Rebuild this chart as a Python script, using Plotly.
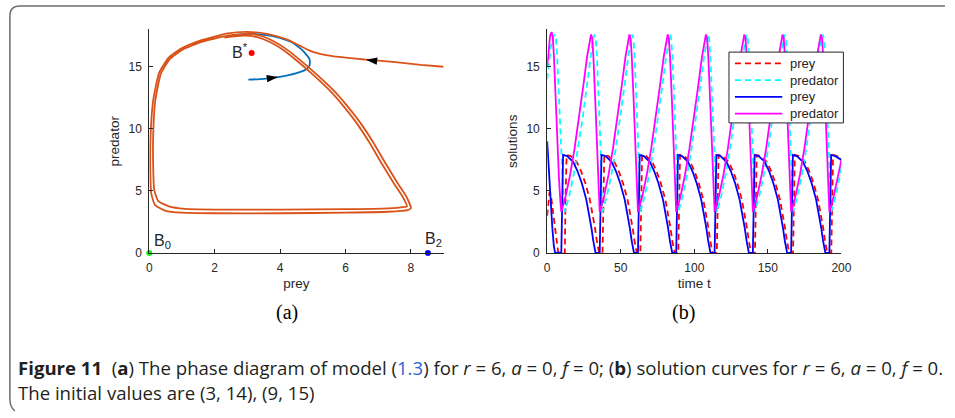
import plotly.graph_objects as go

# ---------------- (a) phase diagram data ----------------
orange_x = [9.0, 8.3, 7.6, 6.6, 5.6, 5.0, 4.6, 4.2, 3.6, 3.0, 2.4, 1.6, 1.0, 0.6, 0.3, 0.12, 0.04, 0.03, 0.06, 0.18, 0.5, 1.0, 2.0, 4.0, 6.0, 7.3, 7.9, 8.0,
            7.85, 7.6, 7.25, 6.85, 6.45, 6.05, 5.65, 5.15, 4.65, 4.2, 3.8, 3.4, 3.0,
            2.4, 1.6, 1.0, 0.62, 0.35, 0.18, 0.12, 0.12, 0.15, 0.27, 0.6, 1.1, 2.0, 4.0, 6.0, 7.3, 7.78, 7.88,
            7.72, 7.48, 7.13, 6.73, 6.33, 5.93, 5.53, 5.03, 4.55, 4.12, 3.72, 3.3, 2.9, 2.3]
orange_y = [15.0, 15.15, 15.35, 15.58, 15.85, 16.2, 16.7, 17.2, 17.65, 17.8, 17.68, 17.15, 16.5, 15.75, 14.5, 12.3, 9.5, 6.9, 4.8, 3.85, 3.4, 3.25, 3.2, 3.2, 3.25, 3.32, 3.45, 3.6,
            4.6, 5.6, 7.1, 8.9, 10.5, 11.85, 13.05, 14.3, 15.45, 16.4, 17.05, 17.5, 17.65,
            17.5, 17.0, 16.35, 15.6, 14.4, 12.2, 9.5, 6.9, 5.1, 4.2, 3.75, 3.55, 3.5, 3.5, 3.53, 3.6, 3.7, 3.75,
            4.65, 5.6, 7.1, 8.9, 10.5, 11.85, 13.05, 14.3, 15.4, 16.3, 16.95, 17.38, 17.5, 17.35]
blue_x = [3.03, 3.5, 3.94, 4.3, 4.6, 4.8, 4.9, 4.9, 4.8, 4.7, 4.55, 4.39, 4.2, 3.99, 3.59, 3.08, 2.6]
blue_y = [13.96, 14.03, 14.17, 14.35, 14.56, 14.8, 15.1, 15.62, 15.98, 16.28, 16.62, 16.94, 17.15, 17.33, 17.55, 17.65, 17.55]
arrow_x = [3.94, 6.62]
arrow_y = [14.17, 15.57]
arrow_angle = [82, -83]
eq_x = [3.13, 0.0, 8.52]
eq_y = [16.1, 0.0, 0.0]
eq_labels = ["B<sup>*</sup>", "B<sub>0</sub>", "B<sub>2</sub>"]

# ---------------- (b) time series data ----------------
# solid: initial value (9, 15)
prey2_t = [0, 0.7, 1.5, 2.5, 3.5, 4.5, 5.3,
           9.6, 10.0, 10.4, 10.8, 13.6, 17.6, 20.6, 23.6, 26.6, 28.6, 30.1, 31.3, 32.2, 32.9,
           35.7, 36.1, 36.5, 36.9, 39.7, 43.7, 46.7, 49.7, 52.7, 54.7, 56.2, 57.4, 58.3, 59.0,
           61.7, 62.1, 62.5, 62.9, 65.7, 69.7, 72.7, 75.7, 78.7, 80.7, 82.2, 83.4, 84.3, 85.0,
           87.7, 88.1, 88.5, 88.9, 91.7, 95.7, 98.7, 101.7, 104.7, 106.7, 108.2, 109.4, 110.3, 111.0,
           113.8, 114.2, 114.6, 115.0, 117.8, 121.8, 124.8, 127.8, 130.8, 132.8, 134.3, 135.5, 136.4, 137.1,
           139.8, 140.2, 140.6, 141.0, 143.8, 147.8, 150.8, 153.8, 156.8, 158.8, 160.3, 161.5, 162.4, 163.1,
           165.8, 166.2, 166.6, 167.0, 169.8, 173.8, 176.8, 179.8, 182.8, 184.8, 186.3, 187.5, 188.4, 189.1,
           191.8, 192.2, 192.6, 193.0, 195.8, 200.0]
prey2_v = [9.0, 7.5, 5.8, 3.8, 2.0, 0.6, 0.05,
           0, 4.0, 7.6, 7.9, 7.8, 7.35, 6.6, 5.6, 4.3, 3.1, 2.0, 1.0, 0.2, 0.0,
           0, 4.0, 7.6, 7.9, 7.8, 7.35, 6.6, 5.6, 4.3, 3.1, 2.0, 1.0, 0.2, 0.0,
           0, 4.0, 7.6, 7.9, 7.8, 7.35, 6.6, 5.6, 4.3, 3.1, 2.0, 1.0, 0.2, 0.0,
           0, 4.0, 7.6, 7.9, 7.8, 7.35, 6.6, 5.6, 4.3, 3.1, 2.0, 1.0, 0.2, 0.0,
           0, 4.0, 7.6, 7.9, 7.8, 7.35, 6.6, 5.6, 4.3, 3.1, 2.0, 1.0, 0.2, 0.0,
           0, 4.0, 7.6, 7.9, 7.8, 7.35, 6.6, 5.6, 4.3, 3.1, 2.0, 1.0, 0.2, 0.0,
           0, 4.0, 7.6, 7.9, 7.8, 7.35, 6.6, 5.6, 4.3, 3.1, 2.0, 1.0, 0.2, 0.0,
           0, 4.0, 7.6, 7.9, 7.8, 7.5]
pred2_t = [0, 1, 2, 3, 3.8, 4.6, 5.6, 6.8, 8.0, 9.0,
           9.6, 12.6, 15.6, 18.6, 21.6, 24.6, 27.1, 28.8, 29.8, 30.6, 31.4, 32.6, 33.8, 34.9,
           35.7, 38.7, 41.7, 44.7, 47.7, 50.7, 53.2, 54.9, 55.9, 56.7, 57.5, 58.7, 59.9, 61.0,
           61.7, 64.7, 67.7, 70.7, 73.7, 76.7, 79.2, 80.9, 81.9, 82.7, 83.5, 84.7, 85.9, 87.0,
           87.7, 90.7, 93.7, 96.7, 99.7, 102.7, 105.2, 106.9, 107.9, 108.7, 109.5, 110.7, 111.9, 113.0,
           113.8, 116.8, 119.8, 122.8, 125.8, 128.8, 131.3, 133.0, 134.0, 134.8, 135.6, 136.8, 138.0, 139.1,
           139.8, 142.8, 145.8, 148.8, 151.8, 154.8, 157.3, 159.0, 160.0, 160.8, 161.6, 162.8, 164.0, 165.1,
           165.8, 168.8, 171.8, 174.8, 177.8, 180.8, 183.3, 185.0, 186.0, 186.8, 187.6, 188.8, 190.0, 191.1,
           191.8, 194.8, 197.8, 200.0]
pred2_v = [15.0, 16.6, 17.5, 17.8, 17.4, 15.8, 12.8, 9.0, 6.0, 4.1,
           3.3, 4.6, 6.3, 8.4, 10.8, 13.5, 15.8, 17.2, 17.6, 17.3, 15.8, 12.5, 8.8, 5.2,
           3.3, 4.6, 6.3, 8.4, 10.8, 13.5, 15.8, 17.2, 17.6, 17.3, 15.8, 12.5, 8.8, 5.2,
           3.3, 4.6, 6.3, 8.4, 10.8, 13.5, 15.8, 17.2, 17.6, 17.3, 15.8, 12.5, 8.8, 5.2,
           3.3, 4.6, 6.3, 8.4, 10.8, 13.5, 15.8, 17.2, 17.6, 17.3, 15.8, 12.5, 8.8, 5.2,
           3.3, 4.6, 6.3, 8.4, 10.8, 13.5, 15.8, 17.2, 17.6, 17.3, 15.8, 12.5, 8.8, 5.2,
           3.3, 4.6, 6.3, 8.4, 10.8, 13.5, 15.8, 17.2, 17.6, 17.3, 15.8, 12.5, 8.8, 5.2,
           3.3, 4.6, 6.3, 8.4, 10.8, 13.5, 15.8, 17.2, 17.6, 17.3, 15.8, 12.5, 8.8, 5.2,
           3.3, 4.6, 6.3, 7.5]
# dashed: initial value (3, 14)
prey1_t = [0, 0.8, 1.6, 2.5, 3.5, 5.0, 6.3, 7.3, 8.0,
           12.0, 12.4, 12.8, 13.2, 16.0, 20.0, 23.0, 26.0, 29.0, 31.0, 32.5, 33.7, 34.6, 35.3,
           37.6, 38.0, 38.4, 38.8, 41.6, 45.6, 48.6, 51.6, 54.6, 56.6, 58.1, 59.3, 60.2, 60.9,
           63.3, 63.7, 64.1, 64.5, 67.3, 71.3, 74.3, 77.3, 80.3, 82.3, 83.8, 85.0, 85.9, 86.6,
           89.1, 89.5, 89.9, 90.3, 93.1, 97.1, 100.1, 103.1, 106.1, 108.1, 109.6, 110.8, 111.7, 112.4,
           115.3, 115.7, 116.1, 116.5, 119.3, 123.3, 126.3, 129.3, 132.3, 134.3, 135.8, 137.0, 137.9, 138.6,
           141.2, 141.6, 142.0, 142.4, 145.2, 149.2, 152.2, 155.2, 158.2, 160.2, 161.7, 162.9, 163.8, 164.5,
           167.1, 167.5, 167.9, 168.3, 171.1, 175.1, 178.1, 181.1, 184.1, 186.1, 187.6, 188.8, 189.7, 190.4,
           193.1, 193.5, 193.9, 194.3, 197.1, 200.0]
prey1_v = [3.0, 4.2, 4.9, 4.7, 3.8, 2.2, 1.0, 0.2, 0.0,
           0, 4.0, 7.6, 7.9, 7.8, 7.35, 6.6, 5.6, 4.3, 3.1, 2.0, 1.0, 0.2, 0.0,
           0, 4.0, 7.6, 7.9, 7.8, 7.35, 6.6, 5.6, 4.3, 3.1, 2.0, 1.0, 0.2, 0.0,
           0, 4.0, 7.6, 7.9, 7.8, 7.35, 6.6, 5.6, 4.3, 3.1, 2.0, 1.0, 0.2, 0.0,
           0, 4.0, 7.6, 7.9, 7.8, 7.35, 6.6, 5.6, 4.3, 3.1, 2.0, 1.0, 0.2, 0.0,
           0, 4.0, 7.6, 7.9, 7.8, 7.35, 6.6, 5.6, 4.3, 3.1, 2.0, 1.0, 0.2, 0.0,
           0, 4.0, 7.6, 7.9, 7.8, 7.35, 6.6, 5.6, 4.3, 3.1, 2.0, 1.0, 0.2, 0.0,
           0, 4.0, 7.6, 7.9, 7.8, 7.35, 6.6, 5.6, 4.3, 3.1, 2.0, 1.0, 0.2, 0.0,
           0, 4.0, 7.6, 7.9, 7.8, 7.6]
pred1_t = [0, 1, 2.5, 4, 5.2, 6.0, 6.8, 8.0, 9.3, 10.8,
           12.0, 15.0, 18.0, 21.0, 24.0, 27.0, 29.5, 31.2, 32.2, 33.0, 33.8, 35.0, 36.2, 37.0,
           37.6, 40.6, 43.6, 46.6, 49.6, 52.6, 55.1, 56.8, 57.8, 58.6, 59.4, 60.6, 61.8, 62.8,
           63.3, 66.3, 69.3, 72.3, 75.3, 78.3, 80.8, 82.5, 83.5, 84.3, 85.1, 86.3, 87.5, 88.6,
           89.1, 92.1, 95.1, 98.1, 101.1, 104.1, 106.6, 108.3, 109.3, 110.1, 110.9, 112.1, 113.3, 114.4,
           115.3, 118.3, 121.3, 124.3, 127.3, 130.3, 132.8, 134.5, 135.5, 136.3, 137.1, 138.3, 139.5, 140.6,
           141.2, 144.2, 147.2, 150.2, 153.2, 156.2, 158.7, 160.4, 161.4, 162.2, 163.0, 164.2, 165.4, 166.5,
           167.1, 170.1, 173.1, 176.1, 179.1, 182.1, 184.6, 186.3, 187.3, 188.1, 188.9, 190.1, 191.3, 192.4,
           193.1, 196.1, 199.1, 200.0]
pred1_v = [14.0, 15.2, 16.6, 17.4, 17.6, 17.2, 15.8, 12.5, 8.8, 5.0,
           3.3, 4.6, 6.3, 8.4, 10.8, 13.5, 15.8, 17.2, 17.6, 17.3, 15.8, 12.5, 8.8, 4.8,
           3.3, 4.6, 6.3, 8.4, 10.8, 13.5, 15.8, 17.2, 17.6, 17.3, 15.8, 12.5, 8.8, 4.8,
           3.3, 4.6, 6.3, 8.4, 10.8, 13.5, 15.8, 17.2, 17.6, 17.3, 15.8, 12.5, 8.8, 5.2,
           3.3, 4.6, 6.3, 8.4, 10.8, 13.5, 15.8, 17.2, 17.6, 17.3, 15.8, 12.5, 8.8, 5.2,
           3.3, 4.6, 6.3, 8.4, 10.8, 13.5, 15.8, 17.2, 17.6, 17.3, 15.8, 12.5, 8.8, 5.2,
           3.3, 4.6, 6.3, 8.4, 10.8, 13.5, 15.8, 17.2, 17.6, 17.3, 15.8, 12.5, 8.8, 5.2,
           3.3, 4.6, 6.3, 8.4, 10.8, 13.5, 15.8, 17.2, 17.6, 17.3, 15.8, 12.5, 8.8, 5.2,
           3.3, 4.6, 6.3, 6.8]

x_ticks_a = [0, 2, 4, 6, 8]
x_ticks_b = [0, 50, 100, 150, 200]
y_ticks = [0, 5, 10, 15]
legend_names = ["prey", "predator", "prey", "predator"]
legend_colors = ["#FF0000", "#00FFFF", "#0000FF", "#FF00FF"]
legend_dashes = ["dash", "dash", "solid", "solid"]

W, H = 955, 418
AX = "#262626"
SANS = "Liberation Sans, Arial, sans-serif"
TICKFONT = dict(family=SANS, size=12, color=AX)
DASH = "6px,4px"

fig = go.Figure()

# (a)
fig.add_trace(go.Scatter(x=blue_x, y=blue_y, mode="lines", line=dict(color="#0072BD", width=1.8, shape="spline", smoothing=0.6),
                         showlegend=False, xaxis="x", yaxis="y"))
fig.add_trace(go.Scatter(x=orange_x, y=orange_y, mode="lines", line=dict(color="#D95319", width=1.8, shape="spline", smoothing=0.5),
                         showlegend=False, xaxis="x", yaxis="y"))
fig.add_trace(go.Scatter(x=arrow_x, y=arrow_y, mode="markers",
                         marker=dict(symbol="arrow", size=12, angle=arrow_angle, color="black"),
                         showlegend=False, xaxis="x", yaxis="y"))
fig.add_trace(go.Scatter(x=eq_x, y=eq_y, mode="markers",
                         marker=dict(size=6, color=["#FF0000", "#00FF00", "#0000FF"]),
                         cliponaxis=False, showlegend=False, xaxis="x", yaxis="y"))

# (b)
series = [(prey1_t, prey1_v), (pred1_t, pred1_v), (prey2_t, prey2_v), (pred2_t, pred2_v)]
for (tt, vv), nm, col, ds in zip(series, legend_names, legend_colors, legend_dashes):
    fig.add_trace(go.Scatter(x=tt, y=vv, mode="lines", name=nm, showlegend=False,
                             line=dict(color=col, width=1.8, dash=DASH if ds == "dash" else "solid"),
                             xaxis="x2", yaxis="y2"))

def px_x(p):
    return p / W

def px_y(p):
    return 1 - p / H

axis_common = dict(showline=True, linecolor=AX, linewidth=1, ticks="inside", ticklen=4,
                   tickcolor=AX, tickwidth=1, showgrid=False, zeroline=False, tickfont=TICKFONT,
                   ticklabelstandoff=4, fixedrange=True)
TITLEFONT = dict(family=SANS, size=13.5, color=AX)

fig.update_layout(
    width=W, height=H, margin=dict(l=0, r=0, t=0, b=0),
    paper_bgcolor="white", plot_bgcolor="rgba(0,0,0,0)",
    xaxis=dict(domain=[px_x(148.3), px_x(446.7)], range=[0, 9], tickvals=x_ticks_a, anchor="y",
               title=dict(text="prey", font=TITLEFONT, standoff=4), **axis_common),
    yaxis=dict(domain=[px_y(257.3), px_y(30)], range=[0, 18], tickvals=y_ticks, anchor="x",
               title=dict(text="predator", font=TITLEFONT, standoff=5), **axis_common),
    xaxis2=dict(domain=[px_x(551.7), px_x(850)], range=[0, 200], tickvals=x_ticks_b, anchor="y2",
                title=dict(text="time t", font=TITLEFONT, standoff=4), **axis_common),
    yaxis2=dict(domain=[px_y(257.3), px_y(30)], range=[0, 18], tickvals=y_ticks, anchor="x2",
                title=dict(text="solutions", font=TITLEFONT, standoff=5), **axis_common),
    showlegend=False,
)

# custom legend box (b)
LX0, LX1, LY0, LY1 = 736, 852, 53, 125
fig.add_shape(type="rect", xref="paper", yref="paper", x0=px_x(LX0), x1=px_x(LX1), y0=px_y(LY1), y1=px_y(LY0),
              line=dict(color=AX, width=1), fillcolor="white", layer="above")
row_y = [64.5, 81.5, 98.5, 115.5]
for ry, nm, col, ds in zip(row_y, legend_names, legend_colors, legend_dashes):
    fig.add_shape(type="line", xref="paper", yref="paper", x0=px_x(742), x1=px_x(790), y0=px_y(ry), y1=px_y(ry),
                  line=dict(color=col, width=1.8, dash=DASH if ds == "dash" else "solid"), layer="above")
    fig.add_annotation(x=px_x(796), y=px_y(ry), xref="paper", yref="paper", text=nm, showarrow=False,
                       xanchor="left", yanchor="middle", font=dict(family=SANS, size=13, color=AX))

# point labels
label_shift = [(-12, 2), (13, 11), (6, 13)]
for xv, yv, lab, (dx, dy) in zip(eq_x, eq_y, eq_labels, label_shift):
    fig.add_annotation(x=xv, y=yv, xref="x", yref="y", text=lab, showarrow=False,
                       xshift=dx, yshift=dy, font=dict(family=SANS, size=16, color=AX))

# subplot captions
SERIF = "Liberation Serif, DejaVu Serif, serif"
fig.add_annotation(x=px_x(288), y=px_y(318), xref="paper", yref="paper", text="(a)", showarrow=False,
                   xanchor="center", yanchor="middle", font=dict(family=SERIF, size=20, color="black"))
fig.add_annotation(x=px_x(690), y=px_y(318), xref="paper", yref="paper", text="(b)", showarrow=False,
                   xanchor="center", yanchor="middle", font=dict(family=SERIF, size=20, color="black"))

# figure caption
CAP = dict(family="Open Sans, sans-serif", size=18.6, color="#231f20")
line1 = ("<b>Figure 11</b>\u00a0\u00a0(<b>a</b>) The phase diagram of model (<span style='color:#2f5fd0'>1.3</span>) "
         "for <i>r</i> = 6, <i>a</i> = 0, <i>f</i> = 0; (<b>b</b>) solution curves for <i>r</i> = 6, <i>a</i> = 0, <i>f</i> = 0.")
line2 = "The initial values are (3, 14), (9, 15)"
fig.add_annotation(x=px_x(13), y=px_y(374), xref="paper", yref="paper", text=line1, showarrow=False,
                   xanchor="left", yanchor="middle", font=CAP)
fig.add_annotation(x=px_x(13), y=px_y(399), xref="paper", yref="paper", text=line2, showarrow=False,
                   xanchor="left", yanchor="middle", font=CAP)

# rounded frame
path = (f"M 1,{px_y(6)} L {px_x(17)},{px_y(6)} Q {px_x(7)},{px_y(6)} {px_x(7)},{px_y(16)} "
        f"L {px_x(7)},{px_y(406)} Q {px_x(7)},{px_y(414)} {px_x(12)},{px_y(418)}")
fig.add_shape(type="path", path=path, xref="paper", yref="paper", line=dict(color="#6e6e6e", width=1.5))

fig.write_html("out.html")
